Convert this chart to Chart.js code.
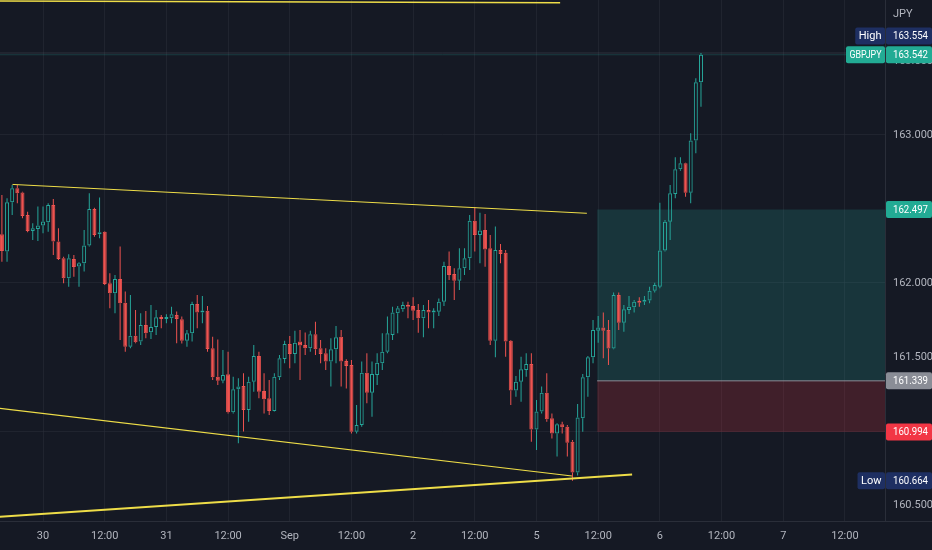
<!DOCTYPE html>
<html>
<head>
<meta charset="utf-8">
<title>GBPJPY 1H</title>
<script src="https://cdn.jsdelivr.net/npm/chart.js@4.4.1/dist/chart.umd.min.js"></script>
<style>
  html, body { margin: 0; padding: 0; background: #151924; }
  #wrap { width: 932px; height: 550px; position: relative; }
</style>
</head>
<body>
<div id="wrap"><canvas id="chart"></canvas></div>
<script>
// ── GBPJPY hourly candles (Aug 29 16:00 → Sep 6 08:00) ──
const opens = [
  162.329,162.212,162.545,162.640,162.611,162.460,162.352,162.365,162.388,162.410,
  162.527,162.280,162.167,162.032,162.162,162.111,162.133,162.253,162.500,162.329,
  162.347,161.998,161.930,162.027,161.867,161.570,161.644,161.604,161.716,161.667,
  161.703,161.766,161.757,161.761,161.784,161.755,161.610,161.660,161.858,161.800,
  161.813,161.559,161.367,161.340,161.383,161.126,161.282,161.304,161.142,161.333,
  161.507,161.270,161.221,161.135,161.363,161.487,161.588,161.520,161.604,161.581,
  161.559,161.653,161.559,161.525,161.469,161.552,161.637,161.473,161.446,160.995,
  161.041,161.394,161.259,161.378,161.457,161.536,161.649,161.795,161.822,161.849,
  161.845,161.818,161.761,161.818,161.800,161.806,161.874,162.115,162.061,162.016,
  162.099,162.167,162.421,162.324,162.358,162.234,161.610,162.223,162.205,161.610,
  161.273,161.333,161.412,161.453,161.011,161.131,161.259,161.086,160.984,161.045,
  161.029,160.928,160.720,161.086,161.363,161.498,161.678,161.700,161.682,161.558,
  161.919,161.732,161.818,161.836,161.878,161.874,161.881,161.948,161.975,162.219,
  162.414,162.601,162.768,162.809,162.610,162.962,163.356
];
const highs = [
  162.595,162.572,162.662,162.662,162.617,162.482,162.403,162.516,162.516,162.539,
  162.568,162.370,162.178,162.194,162.189,162.140,162.358,162.606,162.509,162.577,
  162.350,162.066,162.054,162.246,161.942,161.919,161.818,161.795,161.811,161.852,
  161.818,161.784,161.789,161.840,161.807,161.773,161.683,161.874,161.919,161.912,
  161.845,161.637,161.619,161.547,161.536,161.367,161.356,161.390,161.367,161.581,
  161.536,161.390,161.345,161.390,161.514,161.610,161.642,161.678,161.683,161.665,
  161.678,161.739,161.615,161.559,161.626,161.710,161.683,161.484,161.480,161.176,
  161.469,161.525,161.469,161.525,161.660,161.773,161.840,161.845,161.874,161.874,
  161.903,161.858,161.851,161.885,161.829,161.896,162.144,162.212,162.099,162.234,
  162.234,162.460,162.511,162.475,162.466,162.324,162.381,162.264,162.223,161.615,
  161.372,161.502,161.525,161.525,161.209,161.300,161.390,161.119,161.052,161.063,
  161.041,160.939,161.182,161.385,161.507,161.750,161.777,161.800,161.750,161.935,
  161.935,161.851,161.912,161.885,161.903,161.912,161.975,162.002,162.543,162.426,
  162.662,162.849,162.849,162.813,163.011,163.383,163.554
];
const lows = [
  162.144,162.144,162.460,162.539,162.437,162.343,162.291,162.284,162.336,162.347,
  162.189,162.156,161.998,161.975,162.043,161.975,162.077,162.246,162.313,162.302,
  161.987,161.829,161.795,161.615,161.536,161.559,161.593,161.581,161.626,161.622,
  161.649,161.694,161.728,161.728,161.593,161.592,161.570,161.604,161.694,161.728,
  161.536,161.345,161.311,161.322,161.119,161.119,160.917,160.996,161.063,161.266,
  161.221,161.119,161.108,161.131,161.345,161.457,161.424,161.457,161.345,161.514,
  161.536,161.514,161.457,161.412,161.300,161.457,161.300,161.288,160.984,160.984,
  161.029,161.187,161.097,161.311,161.412,161.525,161.615,161.660,161.806,161.761,
  161.750,161.664,161.633,161.694,161.694,161.777,161.845,162.020,161.885,161.953,
  162.054,162.088,162.212,162.133,162.110,161.581,161.498,162.133,161.502,161.176,
  161.232,161.198,161.367,160.928,160.872,161.119,161.063,160.950,160.827,160.984,
  160.827,160.664,160.700,160.995,161.232,161.457,161.597,161.491,161.446,161.552,
  161.682,161.671,161.790,161.800,161.840,161.851,161.863,161.935,161.964,162.212,
  162.291,162.572,162.759,162.583,162.538,162.876,163.191
];
const closes = [
  162.216,162.545,162.640,162.606,162.453,162.352,162.370,162.388,162.415,162.527,
  162.280,162.162,162.032,162.167,162.108,162.133,162.253,162.500,162.325,162.343,
  161.994,161.930,162.027,161.863,161.570,161.644,161.599,161.716,161.660,161.703,
  161.768,161.757,161.761,161.789,161.757,161.610,161.660,161.858,161.800,161.813,
  161.554,161.363,161.340,161.378,161.126,161.282,161.300,161.142,161.333,161.507,
  161.266,161.214,161.135,161.367,161.491,161.588,161.520,161.597,161.577,161.559,
  161.653,161.552,161.520,161.469,161.552,161.633,161.469,161.439,160.995,161.041,
  161.394,161.259,161.385,161.462,161.536,161.660,161.800,161.829,161.851,161.840,
  161.813,161.761,161.818,161.800,161.806,161.874,162.115,162.054,162.016,162.099,
  162.167,162.421,162.324,162.354,162.227,161.610,162.223,162.196,161.604,161.273,
  161.333,161.417,161.453,161.011,161.131,161.259,161.079,160.984,161.045,161.025,
  160.921,160.720,161.092,161.363,161.498,161.682,161.700,161.678,161.558,161.919,
  161.732,161.822,161.840,161.874,161.867,161.885,161.948,161.986,162.219,162.414,
  162.606,162.768,162.809,162.610,162.962,163.356,163.542
];

// time axis: candle index of each label (24 bars per day, weekend skipped)
const timeTickIdx = [8, 20, 32, 44, 56, 68, 80, 92, 104, 116, 128, 140, 152, 164];
const timeTickLabels = ['30', '12:00', '31', '12:00', 'Sep', '12:00', '2', '12:00', '5', '12:00', '6', '12:00', '7', '12:00'];
const priceTicks = [160.5, 161, 161.5, 162, 162.5, 163, 163.5];

// drawings, each [startIdx, startPrice, endIdx, endPrice]
const topLine = [-0.4, 163.905, 108.6, 163.893];
const channelTop = [2.06, 162.666, 113.8, 162.471];
const channelBottom = [-0.4, 161.153, 110.9, 160.696];
const supportLine = [-0.4, 160.421, 122.6, 160.706];

// long position tool
const positionStart = 115.8;
const targetPrice = 162.497;
const entryPrice = 161.339;
const stopPrice = 160.994;

const highPrice = 163.554;
const lastPrice = 163.542;
const lowPrice = 160.664;

// ── styling ──
const BG = '#151924';
const UP = '#26a69a';
const DOWN = '#ef5350';
const YELLOW = '#eedd48';
const TEXT = '#b2b5be';
const GRID = 'rgba(42,46,57,0.55)';
const AXIS_LINE = '#2a2e39';
const FONT = 'Roboto, "Noto Sans", sans-serif';
const NAVY = '#1e2f62';

const idx = opens.map((_, i) => i);
const isUp = idx.map(i => closes[i] >= opens[i]);
const candleColor = idx.map(i => isUp[i] ? UP : DOWN);

const upperWicks = idx.map(i => ({ x: i, y: [Math.max(opens[i], closes[i]), highs[i]] }));
const lowerWicks = idx.map(i => ({ x: i, y: [lows[i], Math.min(opens[i], closes[i])] }));
const bodies = idx.map(i => ({ x: i, y: [opens[i], closes[i]] }));

const X_MIN = -0.37, X_MAX = 171.8;

function segment(line) {
    return [{ x: line[0], y: line[1] }, { x: line[2], y: line[3] }];
}

function flat(price, from, to) {
    return [{ x: from, y: price }, { x: to, y: price }];
}

function lineSet(data, color, width, order) {
    return {
        type: 'line', data, borderColor: color, borderWidth: width,
        pointRadius: 0, fill: false, tension: 0, order
    };
}

function zoneSet(top, bottom, color) {
    return {
        type: 'line', data: flat(top, positionStart, X_MAX + 5),
        borderColor: 'transparent', borderWidth: 0, pointRadius: 0,
        fill: { value: bottom }, backgroundColor: color, order: 30
    };
}

function wickSet(data) {
    return {
        type: 'bar', data, backgroundColor: candleColor, barThickness: 1,
        grouped: false, inflateAmount: 0, order: 11
    };
}

// ── badges on the price axis ──
function roundBox(ctx, x, y, w, h, r) {
    ctx.beginPath();
    ctx.moveTo(x + r, y);
    ctx.lineTo(x + w - r, y);
    ctx.quadraticCurveTo(x + w, y, x + w, y + r);
    ctx.lineTo(x + w, y + h - r);
    ctx.quadraticCurveTo(x + w, y + h, x + w - r, y + h);
    ctx.lineTo(x + r, y + h);
    ctx.quadraticCurveTo(x, y + h, x, y + h - r);
    ctx.lineTo(x, y + r);
    ctx.quadraticCurveTo(x, y, x + r, y);
    ctx.closePath();
    ctx.fill();
}

function priceBadge(chart, yMid, text, bg, name) {
    const { ctx, chartArea } = chart;
    const h = 17;
    ctx.font = '11px ' + FONT;
    ctx.textBaseline = 'middle';
    ctx.fillStyle = bg;
    roundBox(ctx, chartArea.right + 1, yMid - h / 2, 46, h, 2);
    ctx.fillStyle = '#ffffff';
    ctx.textAlign = 'left';
    ctx.fillText(text, chartArea.right + 8, yMid + 0.5, 35);
    if (name) {
        const w = Math.min(ctx.measureText(name).width, 32) + 7;
        ctx.fillStyle = bg;
        roundBox(ctx, chartArea.right - w, yMid - h / 2, w, h, 2);
        ctx.fillStyle = '#ffffff';
        ctx.textAlign = 'center';
        ctx.fillText(name, chartArea.right - w / 2, yMid + 0.5, 32);
    }
}

const overlay = {
    id: 'overlay',
    beforeDraw(chart) {
        const { ctx, width, height } = chart;
        ctx.save();
        ctx.fillStyle = BG;
        ctx.fillRect(0, 0, width, height);
        ctx.restore();
    },
    afterDraw(chart) {
        const { ctx, chartArea } = chart;
        const y = chart.scales.y;
        ctx.save();
        ctx.strokeStyle = AXIS_LINE;
        ctx.lineWidth = 1;
        ctx.beginPath();
        ctx.moveTo(chartArea.right, chartArea.bottom + 0.5);
        ctx.lineTo(chart.width, chartArea.bottom + 0.5);
        ctx.stroke();

        ctx.font = '11px ' + FONT;
        ctx.fillStyle = TEXT;
        ctx.textAlign = 'left';
        ctx.textBaseline = 'middle';
        ctx.fillText('JPY', chartArea.right + 8, 14);

        priceBadge(chart, y.getPixelForValue(highPrice) - 17, highPrice.toFixed(3), NAVY, 'High');
        priceBadge(chart, y.getPixelForValue(lastPrice), lastPrice.toFixed(3), '#22ab94', 'GBPJPY');
        priceBadge(chart, y.getPixelForValue(targetPrice), targetPrice.toFixed(3), '#22ab94');
        priceBadge(chart, y.getPixelForValue(entryPrice), entryPrice.toFixed(3), '#8a8d96');
        priceBadge(chart, y.getPixelForValue(stopPrice), stopPrice.toFixed(3), '#f23645');
        priceBadge(chart, y.getPixelForValue(lowPrice), lowPrice.toFixed(3), NAVY, 'Low');
        ctx.restore();
    }
};

const ctx = document.getElementById('chart').getContext('2d');

new Chart(ctx, {
    type: 'bar',
    data: {
        datasets: [
            // trend lines on top
            lineSet(segment(topLine), YELLOW, 1.6, 1),
            lineSet(segment(channelTop), YELLOW, 1, 1),
            lineSet(segment(channelBottom), YELLOW, 1.2, 1),
            lineSet(segment(supportLine), YELLOW, 2, 1),
            // candles
            {
                type: 'bar', data: bodies,
                backgroundColor: idx.map(i => isUp[i] ? 'rgba(0,0,0,0)' : DOWN),
                borderColor: candleColor, borderWidth: 1, borderSkipped: false,
                barThickness: 4, minBarLength: 2, grouped: false, inflateAmount: 0, order: 10
            },
            wickSet(upperWicks),
            wickSet(lowerWicks),
            // high / last price lines
            lineSet(flat(highPrice, X_MIN - 1, X_MAX + 1), 'rgba(120,123,134,0.25)', 1, 20),
            lineSet(flat(lastPrice, X_MIN - 1, X_MAX + 1), 'rgba(38,166,154,0.25)', 1, 20),
            lineSet(flat(entryPrice, positionStart, X_MAX + 5), '#8a8d96', 1, 25),
            // target / stop zones
            zoneSet(targetPrice, entryPrice, 'rgba(38,166,154,0.2)'),
            zoneSet(entryPrice, stopPrice, 'rgba(242,54,69,0.2)')
        ]
    },
    options: {
        responsive: true,
        maintainAspectRatio: false,
        animation: false,
        events: [],
        layout: { padding: 0 },
        plugins: {
            legend: { display: false },
            tooltip: { enabled: false }
        },
        scales: {
            x: {
                type: 'linear',
                min: X_MIN,
                max: X_MAX,
                offset: false,
                grid: { color: GRID, drawTicks: false, offset: false },
                border: { display: true, color: AXIS_LINE },
                afterBuildTicks: (scale) => { scale.ticks = timeTickIdx.map(v => ({ value: v })); },
                afterFit: (scale) => {
                    scale.height = 29;
                    scale.paddingLeft = 0;
                    scale.paddingRight = 0;
                },
                ticks: {
                    color: TEXT,
                    font: { family: FONT, size: 11 },
                    padding: 9,
                    autoSkip: false,
                    maxRotation: 0,
                    callback: (v, i) => timeTickLabels[i]
                }
            },
            y: {
                position: 'right',
                min: 160.392,
                max: 163.912,
                grid: {
                    drawTicks: false,
                    color: (c) => Math.abs(c.tick.value - Math.round(c.tick.value)) < 1e-6 ? GRID : 'transparent'
                },
                border: { display: true, color: AXIS_LINE },
                afterBuildTicks: (scale) => { scale.ticks = priceTicks.map(v => ({ value: v })); },
                afterFit: (scale) => {
                    scale.width = 47;
                    scale.paddingTop = 0;
                    scale.paddingBottom = 0;
                },
                ticks: {
                    color: TEXT,
                    font: { family: FONT, size: 11 },
                    padding: 8,
                    callback: (v) => Number(v).toFixed(3)
                }
            }
        }
    },
    plugins: [overlay]
});
</script>
</body>
</html>
